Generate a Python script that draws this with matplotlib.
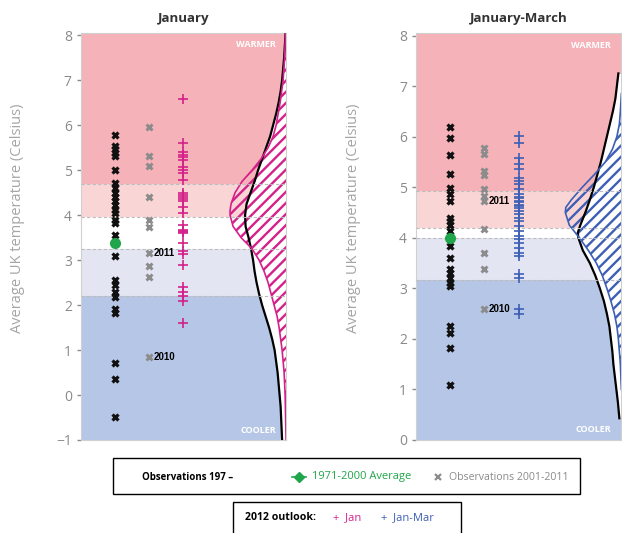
import numpy as np
import matplotlib
matplotlib.use("Agg")
import matplotlib.pyplot as plt
from matplotlib.patches import Rectangle
from matplotlib.lines import Line2D

plt.rcParams['font.family'] = ['Open Sans', 'DejaVu Sans']
plt.rcParams['hatch.linewidth'] = 1.7

# ---- January ----
jan_obs = [5.78, 5.54, 5.47, 5.38, 5.32, 5.0, 4.72, 4.61, 4.5, 4.41, 4.31, 4.22, 4.11, 4.04,
           3.89, 3.83, 3.56, 3.09, 2.56, 2.44, 2.29, 2.18, 1.91, 1.82, 0.71, 0.36, -0.49]
jan_avg = 3.38
jan_recent = [5.96, 5.31, 5.09, 4.4, 3.89, 3.73, 3.16, 2.87, 2.62, 0.84]
jan_2011 = 3.16
jan_2010 = 0.84
jan_fcst = [6.58, 5.6, 5.4, 5.33, 5.3, 5.22, 5.07, 5.0, 4.93, 4.78, 4.49, 4.45, 4.4, 4.35, 4.31,
            4.18, 4.04, 3.78, 3.67, 3.65, 3.62, 3.6, 3.38, 3.2, 3.13, 2.89, 2.4, 2.29, 2.2, 2.09, 1.6]
# band edges (cooler -> warmer)
jan_bands = [-1, 2.2, 3.24, 3.96, 4.69, 8.05]

# probability curves: temperature and relative density (climate / 2012 outlook)
jan_clim_t = [-1, -0.75, -0.5, -0.25, 0, 0.25, 0.5, 0.75, 1, 1.25, 1.5, 1.75, 2, 2.25, 2.5, 2.75,
              3, 3.25, 3.5, 3.75, 4, 4.25, 4.5, 4.75, 5, 5.25, 5.5, 5.75, 6, 6.25, 6.5, 6.75,
              7, 7.5, 8.05]
jan_clim_d = [4, 4.5, 5, 5.5, 6.5, 7.5, 8.5, 10, 11.5, 14, 17, 20.5, 24, 27, 29.5, 31.5,
              33, 35, 37.5, 40.5, 41, 39.5, 35.5, 31.5, 28, 24, 20, 16, 13, 10, 7.5, 5.5,
              4, 2, 0.5]
jan_fcst_t = [-1, -0.5, 0, 0.5, 1, 1.25, 1.5, 1.75, 2, 2.25, 2.5, 2.75, 3, 3.25, 3.5, 3.75,
              4, 4.1, 4.25, 4.5, 4.75, 5, 5.25, 5.5, 5.75, 6, 6.25, 6.5, 6.75, 7, 7.5, 8.05]
jan_fcst_d = [0, 0.5, 1, 2, 4, 5.5, 7, 9, 12, 15, 18, 22, 27, 34, 45, 53,
              56, 56, 55, 51, 44, 34, 25, 18, 13, 10, 8, 6, 4.5, 3, 1.5, 0.5]

# ---- January-March ----
jfm_obs = [6.19, 5.97, 5.63, 5.26, 4.98, 4.86, 4.72, 4.39, 4.33, 4.25, 4.13, 3.97, 3.83, 3.6,
           3.38, 3.3, 3.2, 3.1, 3.04, 2.25, 2.11, 1.82, 1.09]
jfm_avg = 3.99
jfm_recent = [5.77, 5.65, 5.32, 5.24, 4.96, 4.82, 4.72, 4.17, 3.7, 3.38, 2.59]
jfm_2011 = 4.72
jfm_2010 = 2.59
jfm_fcst = [6.01, 5.87, 5.57, 5.45, 5.36, 5.18, 5.12, 5.06, 4.96, 4.86, 4.8, 4.78, 4.72, 4.7,
            4.65, 4.62, 4.58, 4.53, 4.47, 4.39, 4.33, 4.23, 4.13, 4.03, 3.97, 3.89, 3.79, 3.7,
            3.64, 3.28, 3.2, 2.59, 2.49]
jfm_bands = [0, 3.16, 3.99, 4.19, 4.92, 8.05]
jfm_clim_t = [0.43, 0.75, 1, 1.25, 1.5, 1.75, 2, 2.25, 2.5, 2.75, 3, 3.25, 3.5, 3.75, 4, 4.1,
              4.25, 4.5, 4.75, 5, 5.25, 5.5, 5.75, 6, 6.25, 6.5, 6.75, 7, 7.25]
jfm_clim_d = [2, 3.5, 5, 6.5, 8, 9, 10.5, 12, 14.5, 17.5, 21.5, 26, 31.5, 38.5, 43, 43.5,
              41, 36, 31.5, 27.5, 24, 20.5, 17.5, 14.5, 11.5, 8.5, 6, 4.5, 3]
jfm_fcst_t = [1, 1.5, 2, 2.25, 2.5, 2.75, 3, 3.25, 3.5, 3.75, 4, 4.25, 4.5, 4.6, 4.75, 5,
              5.25, 5.5, 5.75, 6, 6.25, 6.5, 6.85]
jfm_fcst_d = [0, 1, 3, 4.5, 7, 10.5, 14.5, 19, 25, 33, 42, 52, 56, 55.5, 50, 39,
              27, 16, 9, 4.5, 2, 1, 0]

band_cols = ['#b6c6e6', '#e3e5f3', '#ffffff', '#fad5d6', '#f5b2b8']
pink = '#d4218a'
blue = '#3d5fb5'
green = '#1fa64a'
grey_txt = '#8a8a8a'
DENS_SCALE = 1 / 205.0   # density units -> fraction of panel width


def panel(ax, title, obs, avg, recent, y2011, y2010, fcst, fcol, bands,
          clim_t, clim_d, fcst_t, fcst_d):
    for i in range(5):
        ax.axhspan(bands[i], bands[i + 1], color=band_cols[i], zorder=0, lw=0)
    for b in bands[1:-1]:
        ax.axhline(b, color='#bdbdbd', ls=(0, (3, 2)), lw=0.8, zorder=4)

    cx = 1 - np.array(clim_d) * DENS_SCALE
    fx = 1 - np.array(fcst_d) * DENS_SCALE
    ax.fill_betweenx(clim_t, cx, 1.0, color='white', lw=0, zorder=1)
    ax.fill_betweenx(fcst_t, fx, 1.0, facecolor='none', edgecolor=fcol,
                     hatch='///', lw=0, zorder=2)
    ax.plot(cx, clim_t, color='black', lw=1.6, zorder=3)
    ax.plot(fx, fcst_t, color=fcol, lw=1.2, zorder=3)

    ax.plot([0.166] * len(obs), obs, ls='none', marker='x', ms=4.5, mew=2.3, color='#111111', zorder=5)
    ax.plot([0.166], [avg], ls='none', marker='o', ms=7, color=green, zorder=6)
    ax.plot([0.33] * len(recent), recent, ls='none', marker='x', ms=4.5, mew=2.1, color='#8c8c8c', zorder=5)
    ax.text(0.355, y2011, '2011', fontsize=7, fontweight='bold', va='center', zorder=6,
            family=['Liberation Sans'])
    ax.text(0.355, y2010, '2010', fontsize=7, fontweight='bold', va='center', zorder=6,
            family=['Liberation Sans'])
    ax.plot([0.5] * len(fcst), fcst, ls='none', marker='+', ms=6.5, mew=1.2, color=fcol, zorder=5)

    ax.text(0.95, bands[-1] - 0.25, 'WARMER', color='white', fontsize=6.5, fontweight='bold',
            ha='right', va='center', zorder=6)
    ax.text(0.95, bands[0] + 0.2, 'COOLER', color='white', fontsize=6.5, fontweight='bold',
            ha='right', va='center', zorder=6)

    ax.set_xlim(0, 1)
    ax.set_ylim(bands[0], bands[-1])
    ax.set_xticks([])
    ax.set_yticks(range(int(bands[0]), 9))
    ax.tick_params(axis='y', colors=grey_txt, labelsize=10, length=3, width=1)
    for s in ax.spines.values():
        s.set_color('#d0d0d0')
    ax.set_ylabel('Average UK temperature (Celsius)', color='#a5a5a5', fontsize=10.5)
    ax.yaxis.set_label_coords(-0.27, 0.545)
    ax.set_title(title, fontsize=9.5, fontweight='bold', color='#333333', pad=8)


fig = plt.figure(figsize=(6.22, 5.33), dpi=100)
ax1 = fig.add_axes([0.130, 0.1745, 0.330, 0.7636])
ax2 = fig.add_axes([0.669, 0.1745, 0.330, 0.7636])
panel(ax1, 'January', jan_obs, jan_avg, jan_recent, jan_2011, jan_2010, jan_fcst, pink,
      jan_bands, jan_clim_t, jan_clim_d, jan_fcst_t, jan_fcst_d)
panel(ax2, 'January-March', jfm_obs, jfm_avg, jfm_recent, jfm_2011, jfm_2010, jfm_fcst, blue,
      jfm_bands, jfm_clim_t, jfm_clim_d, jfm_fcst_t, jfm_fcst_d)

# key boxes underneath
W, H = 622.0, 533.0
fig.patches.append(Rectangle((113 / W, 1 - 494 / H), 467 / W, 36 / H, transform=fig.transFigure,
                             fill=False, ec='black', lw=1))
fig.patches.append(Rectangle((233 / W, -0.01), 228 / W, 1 - 502 / H + 0.01, transform=fig.transFigure,
                             fill=False, ec='black', lw=1))
y1 = 1 - 477 / H
fig.text(142 / W, y1, 'Observations 197 –', fontsize=7, fontweight='bold', va='center')
fig.add_artist(Line2D([292 / W, 306 / W], [y1, y1], color=green, lw=1.2, transform=fig.transFigure))
fig.add_artist(Line2D([299 / W], [y1], color=green, marker='D', ms=5, transform=fig.transFigure))
fig.text(312 / W, y1, '1971-2000 Average', fontsize=8, color=green, va='center')
fig.add_artist(Line2D([438 / W], [y1], color='#8c8c8c', marker='x', ms=4, mew=1.6, ls='none',
                      transform=fig.transFigure))
fig.text(449 / W, y1, 'Observations 2001-2011', fontsize=7.6, color='#8a8a8a', va='center')

y2 = 1 - 518 / H
fig.text(245 / W, y2, '2012 outlook:', fontsize=7.6, fontweight='bold', va='center')
fig.text(333 / W, y2, '+  Jan', fontsize=8, color=pink, va='center')
fig.text(381 / W, y2, '+  Jan-Mar', fontsize=8, color=blue, va='center')

fig.savefig('out.png', dpi=100)
